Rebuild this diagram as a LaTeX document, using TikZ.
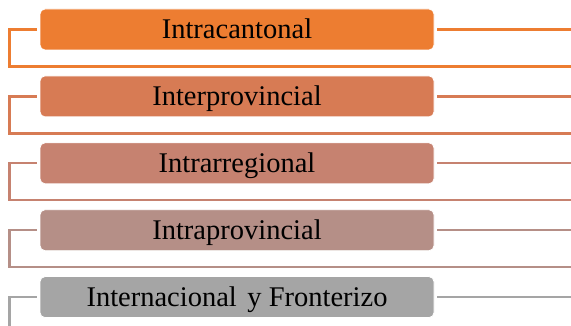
\documentclass[tikz,border=0pt]{standalone}
\usepackage{fontspec}
\setmainfont{Liberation Serif}
\definecolor{cA}{RGB}{237,125,49}
\definecolor{cB}{RGB}{215,123,84}
\definecolor{cC}{RGB}{198,130,112}
\definecolor{cD}{RGB}{181,143,135}
\definecolor{cE}{RGB}{165,165,165}
\tikzset{
  itembox/.style={draw=white, line width=0.8pt, rounded corners=5pt, minimum width=394pt, minimum height=41pt, inner sep=0pt, text height=19pt, text depth=0pt, font=\fontsize{28.5}{30}\selectfont, text=black},
  link/.style={line width=2.4pt}
}
\begin{document}
\begin{tikzpicture}[x=1pt,y=-1pt]
\useasboundingbox (0,0) rectangle (571,326);
\clip (0,0) rectangle (571,326);
\foreach \i/\col/\txt in {0/cA/Intracantonal,1/cB/Interprovincial,2/cC/Intrarregional,3/cD/Intraprovincial,4/cE/{Internacional\hspace{0.12em} y Fronterizo}}{
  \pgfmathsetmacro{\c}{29.5+66.9*\i}
  \node[itembox, fill=\col] (b\i) at (237,\c) {\txt};
  \coordinate (r\i) at (573,\c);
  \coordinate (lt\i) at (9.5,\c);
  \coordinate (lb\i) at (9.5,\c+37);
  \coordinate (rb\i) at (573,\c+37);
  \draw[link, draw=\col] ([xshift=-3pt]b\i.west) -- (lt\i) -- (lb\i) -- (rb\i);
  \draw[link, draw=\col] ([xshift=3pt]b\i.east) -- (r\i);
}
\end{tikzpicture}
\end{document}
